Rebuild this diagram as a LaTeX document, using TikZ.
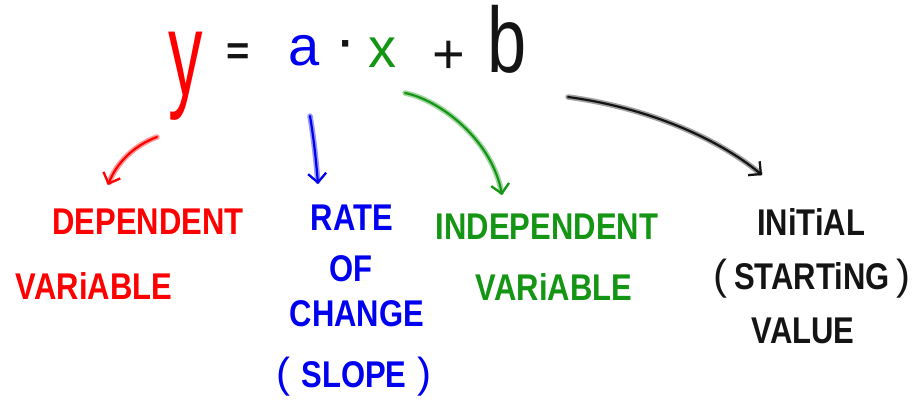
\documentclass[tikz,border=0pt]{standalone}
\usepackage{fontspec}
\setmainfont{Liberation Sans}
\usetikzlibrary{arrows.meta}
\definecolor{hred}{RGB}{255,0,0}
\definecolor{hblue}{RGB}{0,0,240}
\definecolor{hgreen}{RGB}{20,150,20}
\definecolor{hblack}{RGB}{20,20,20}
\newcommand{\tallT}[1]{\scalebox{1}[1.2]{#1}}
\newcommand{\bigP}[1]{{\fontsize{42}{46}\selectfont\mdseries #1}}
\tikzset{
  eqletter/.style={inner sep=0pt, font=\fontsize{56}{60}\selectfont},
  lbl/.style={inner sep=0pt, font=\fontsize{31}{36}\selectfont\bfseries},
  harrow/.style={line width=2.2pt, line cap=round, line join=round,
    -{Straight Barb[length=9pt,width=18pt,line width=2.2pt]},
    preaction={draw=#1!40, line width=5.5pt, line cap=round}, draw=#1},
}
\begin{document}
\begin{tikzpicture}[x=1pt,y=-1pt]
\useasboundingbox (0,0) rectangle (916,402);
% equation
\node[eqletter, anchor=base, text=hred, font=\fontsize{60}{64}\selectfont] (y) at (186,95) {\scalebox{1.15}[2]{y}};
\node[eqletter, text=hblack, font=\fontsize{40}{44}\selectfont\bfseries] (eq) at (238,54) {=};
\node[eqletter, anchor=base, text=hblue] (a) at (304,65) {a};
\node[eqletter, text=hblack, font=\fontsize{44}{48}\selectfont\bfseries] (dot) at (347,50) {·};
\node[eqletter, anchor=base, text=hgreen] (x) at (382,67) {x};
\node[eqletter, text=hblack] (plus) at (449,57) {+};
\node[eqletter, anchor=base, text=hblack, font=\fontsize{64}{68}\selectfont] (b) at (507,72) {\scalebox{1.1}[1.45]{b}};
% labels
\node[lbl, text=hred] (dep) at (148,222) {\tallT{DEPENDENT}};
\node[lbl, text=hred] (var1) at (94,286) {\tallT{VARiABLE}};
\node[lbl, text=hblue] (rate) at (352,218) {\tallT{RATE}};
\node[lbl, text=hblue] (of) at (351,269) {\tallT{OF}};
\node[lbl, text=hblue] (change) at (357,314) {\tallT{CHANGE}};
\node[lbl, text=hblue] (slope) at (354,377) {\bigP{(}\hspace{11pt}\tallT{SLOPE}\hspace{11pt}\bigP{)}};
\node[lbl, text=hgreen] (indep) at (547,227) {\tallT{INDEPENDENT}};
\node[lbl, text=hgreen] (var2) at (554,287) {\tallT{VARiABLE}};
\node[lbl, text=hblack] (init) at (811,222) {\tallT{INiTiAL}};
\node[lbl, text=hblack] (start) at (812,279) {\bigP{(}\hspace{7pt}\tallT{STARTiNG}\hspace{7pt}\bigP{)}};
\node[lbl, text=hblack] (value) at (803,331) {\tallT{VALUE}};
% arrow ends
\coordinate (rs) at (157,137);
\coordinate (re) at (108,185);
\coordinate (bs) at (310,116);
\coordinate (be) at (318,184);
\coordinate (gs) at (405,93);
\coordinate (ge) at (502,195);
\coordinate (ks) at (568,97);
\coordinate (ke) at (762,175);
\draw[harrow=hred] (rs) .. controls (135,145) and (117,162) .. (re);
\draw[harrow=hblue] (bs) .. controls (314,140) and (316,160) .. (be);
\draw[harrow=hgreen] (gs) .. controls (440,100) and (492,140) .. (ge);
\draw[harrow=hblack] (ks) .. controls (650,108) and (720,140) .. (ke);
\end{tikzpicture}
\end{document}
